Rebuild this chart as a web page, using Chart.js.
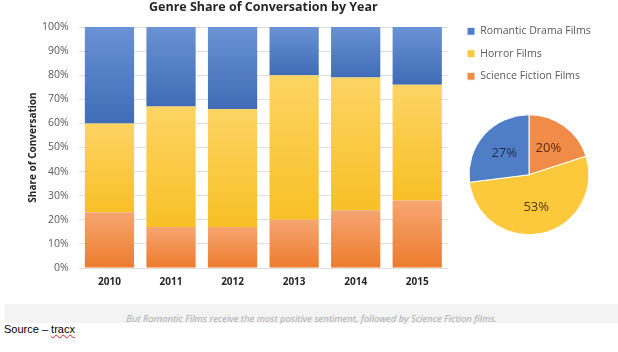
<!DOCTYPE html>
<html>
<head>
<meta charset="utf-8">
<script src="https://cdn.jsdelivr.net/npm/chart.js@4"></script>
<style>
    body { margin: 0; background: #fff; }
    .frame { position: relative; width: 618px; height: 352px; overflow: hidden; background: #fff; }
    #barChart { position: absolute; left: 0; top: 0; }
    #pieChart { position: absolute; left: 440px; top: 0; }
    .note-band { position: absolute; left: 5px; top: 304px; width: 613px; height: 19px; background: #f3f3f3; }
    .note-text { position: absolute; left: 0; right: 0; top: 8px; line-height: 14px; text-align: center;
                 font: italic 9.5px "Open Sans", sans-serif; color: #a9a9a9; }
    .source { position: absolute; left: 4px; top: 323px; line-height: 13px;
              font: 11px "Liberation Sans", Arial, sans-serif; color: #000; }
    .source span { text-decoration: underline wavy #d22; text-decoration-thickness: 1px; }
</style>
</head>
<body>
<div class="frame">
    <canvas id="barChart" width="460" height="300"></canvas>
    <canvas id="pieChart" width="178" height="270"></canvas>
    <div class="note-band">
        <div class="note-text">But Romantic Films receive the most positive sentiment, followed by Science Fiction films.</div>
    </div>
    <div class="source">Source – <span>tracx</span></div>
</div>

<script>
const years = ["2010", "2011", "2012", "2013", "2014", "2015"];

// share of conversation per year, in percent (stacked bottom to top)
const sciFiShare = [23, 17, 17, 20, 24, 28];
const horrorShare = [37, 50, 49, 60, 55, 48];
const romanticShare = [40, 33, 34, 20, 21, 24];

// overall split shown in the pie, clockwise from the top
const pieLabels = ["Science Fiction Films", "Horror Films", "Romantic Drama Films"];
const pieValues = [20, 53, 27];

const yTicks = [0, 10, 20, 30, 40, 50, 60, 70, 80, 90, 100];

const orange = "#f08c48";
const yellow = "#fbc93b";
const blue = "#4f7ec6";

// top / bottom colour of each bar segment
const shades = [
    ["#f6a571", "#ed7c2e"],
    ["#fdd464", "#f8c026"],
    ["#6a92d4", "#3f6cb6"]
];

const pieTextColors = ["#5e2a0a", "#4d3d0a", "#1f2d4d"];

Chart.defaults.font.family = "'Open Sans', sans-serif";
Chart.defaults.color = "#595959";

const segmentShade = {
    id: "segmentShade",
    beforeDatasetsDraw(chart) {
        const ctx = chart.ctx;
        chart.data.datasets.forEach((ds, i) => {
            chart.getDatasetMeta(i).data.forEach(bar => {
                const g = ctx.createLinearGradient(0, bar.y, 0, bar.base);
                g.addColorStop(0, shades[i][0]);
                g.addColorStop(1, shades[i][1]);
                bar.options.backgroundColor = g;
            });
        });
    }
};

const sliceLabels = {
    id: "sliceLabels",
    afterDatasetsDraw(chart) {
        const ctx = chart.ctx;
        const meta = chart.getDatasetMeta(0);
        ctx.save();
        ctx.font = "13px 'Open Sans', sans-serif";
        ctx.textAlign = "center";
        ctx.textBaseline = "middle";
        meta.data.forEach((arc, i) => {
            const p = arc.getProps(["x", "y", "startAngle", "endAngle", "outerRadius"], true);
            const mid = (p.startAngle + p.endAngle) / 2;
            const r = p.outerRadius * 0.55;
            ctx.fillStyle = pieTextColors[i];
            ctx.fillText(pieValues[i] + "%", p.x + Math.cos(mid) * r, p.y + Math.sin(mid) * r);
        });
        ctx.restore();
    }
};

new Chart("barChart", {
    type: "bar",
    data: {
        labels: years,
        datasets: [
            { label: "Science Fiction Films", data: sciFiShare, backgroundColor: () => orange },
            { label: "Horror Films", data: horrorShare, backgroundColor: () => yellow },
            { label: "Romantic Drama Films", data: romanticShare, backgroundColor: () => blue }
        ]
    },
    options: {
        responsive: false,
        animation: false,
        layout: { padding: { left: 23, right: 12, top: 0, bottom: 4 } },
        datasets: { bar: { barPercentage: 0.8, categoryPercentage: 1 } },
        scales: {
            x: {
                stacked: true,
                grid: { display: false, drawTicks: false },
                border: { display: false },
                ticks: { padding: 8, color: "#262626", font: { size: 10, weight: "bold" } }
            },
            y: {
                stacked: true,
                min: 0,
                max: 100,
                afterBuildTicks: axis => { axis.ticks = yTicks.map(v => ({ value: v })); },
                grid: { color: "#dcdcdc", drawTicks: false },
                border: { display: false },
                ticks: { padding: 10, font: { size: 10.5 }, callback: v => v + "%" },
                title: {
                    display: true,
                    text: "Share of Conversation",
                    color: "#262626",
                    padding: { top: 4, bottom: -7 },
                    font: { size: 10, weight: "bold" }
                }
            }
        },
        plugins: {
            legend: { display: false },
            tooltip: { enabled: false },
            title: {
                display: true,
                fullSize: false,
                text: "Genre Share of Conversation by Year",
                color: "#262626",
                padding: { top: 0, bottom: 12 },
                font: { size: 12.5, weight: "bold" }
            }
        }
    },
    plugins: [segmentShade]
});

new Chart("pieChart", {
    type: "pie",
    data: {
        labels: pieLabels,
        datasets: [{
            data: pieValues,
            backgroundColor: [orange, yellow, blue],
            borderColor: "#ffffff",
            borderWidth: 1
        }]
    },
    options: {
        responsive: false,
        animation: false,
        radius: 60,
        layout: { padding: { left: 15, right: 15, top: 14, bottom: 12 } },
        plugins: {
            tooltip: { enabled: false },
            legend: {
                position: "top",
                align: "start",
                reverse: true,
                labels: { boxWidth: 8, boxHeight: 8, padding: 12, font: { size: 10.5 }, color: "#595959" }
            }
        }
    },
    plugins: [sliceLabels]
});
</script>
</body>
</html>
